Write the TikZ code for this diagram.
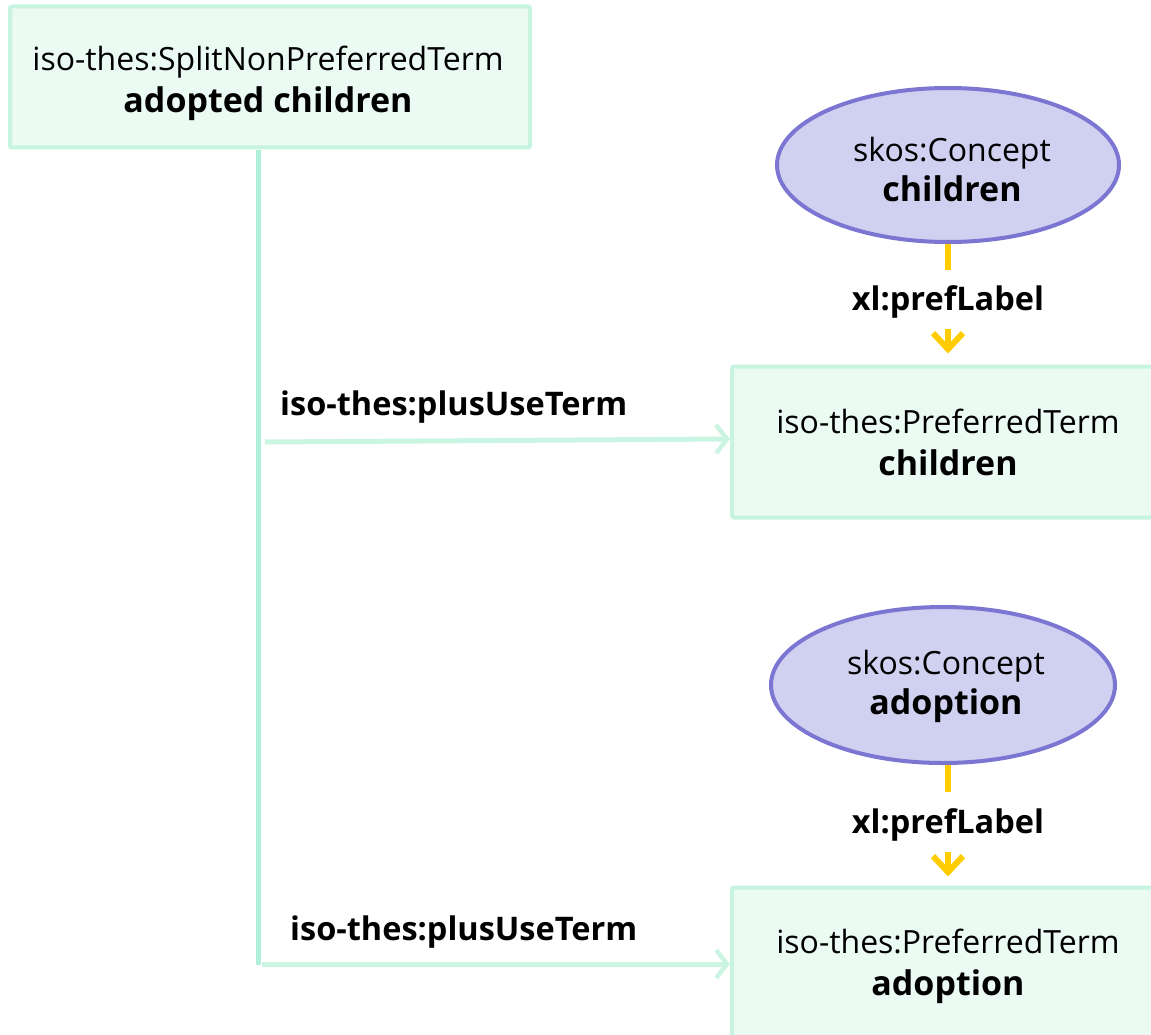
\documentclass[tikz,border=0pt]{standalone}
\usepackage{fontspec}
\setmainfont{Open Sans}
\usetikzlibrary{arrows.meta,shapes.geometric}
\definecolor{termfill}{HTML}{EBFAF3}
\definecolor{termline}{HTML}{C6F4E0}
\definecolor{trunk}{HTML}{B0F0D8}
\definecolor{useline}{HTML}{CBF5E3}
\definecolor{conceptfill}{HTML}{D0D0F0}
\definecolor{conceptline}{HTML}{7A76D2}
\definecolor{preflabel}{HTML}{FFCC00}
\newcommand{\nodetext}{\fontsize{32}{42}\selectfont}
\newcommand{\nodename}[1]{{\fontsize{34}{42}\selectfont\bfseries #1}}
\tikzset{
  termbox/.style={draw=termline, fill=termfill, line width=4pt, rounded corners=2pt,
    inner sep=0pt},
  concept/.style={draw=conceptline, fill=conceptfill, line width=4pt, ellipse,
    inner sep=0pt},
  caption/.style={align=center, font=\nodetext, inner sep=0pt},
  edgelabel/.style={font=\fontsize{32.5}{36}\selectfont\bfseries, inner sep=0pt},
  prefline/.style={draw=preflabel, line width=6pt},
  prefarrow/.style={draw=preflabel, line width=6pt,
    -{Straight Barb[length=16pt, width=30pt, line width=6pt]}},
  usearrow/.style={draw=useline, line width=5pt,
    -{Straight Barb[length=11pt, width=28pt, line width=4.5pt]}},
}
\begin{document}
\begin{tikzpicture}[x=1pt, y=-1pt]
\useasboundingbox (0,0) rectangle (1151,1035);
% split non-preferred term
\node[termbox, minimum width=520pt, minimum height=141pt] (split) at (270,77) {};
\node[caption] (splittext) at (268,83)
  {iso-thes:SplitNonPreferredTerm\\\nodename{adopted children}};
% concepts
\node[concept, minimum width=342pt, minimum height=154pt] (c1) at (948,165) {};
\node[caption] (c1text) at (952,170) {skos:Concept\\[-2pt]\nodename{children}};
\node[concept, minimum width=344pt, minimum height=156pt] (c2) at (943,685) {};
\node[caption] (c2text) at (946,686) {skos:Concept\\[-2pt]\nodename{adoption}};
% preferred terms (the second one runs past the lower edge)
\node[termbox, minimum width=440pt, minimum height=151pt] (p1) at (952,442) {};
\node[caption] (p1text) at (948,442) {iso-thes:PreferredTerm\\\nodename{children}};
\node[termbox, minimum width=440pt, minimum height=151pt] (p2) at (952,963) {};
\node[caption] (p2text) at (948,966) {iso-thes:PreferredTerm\\\nodename{adoption}};
% prefLabel connectors, broken by their labels
\node[edgelabel] (l1) at (948,302) {xl:prefLabel};
\node[edgelabel] (l2) at (948,825) {xl:prefLabel};
\coordinate (l1a) at (948,270);
\coordinate (l1b) at (948,329);
\coordinate (l2a) at (948,792);
\coordinate (l2b) at (948,852);
\draw[prefline] (c1.south) -- (l1a);
\draw[prefarrow] (l1b) -- (p1.north -| l1b) [shorten >=11pt];
\draw[prefline] (c2.south -| l2a) -- (l2a);
\draw[prefarrow] (l2b) -- (p2.north -| l2b) [shorten >=9pt];
% plusUseTerm trunk and branches
\coordinate (t0) at (258,150);
\coordinate (t1) at (258,965);
\coordinate (b1) at (265,442);
\coordinate (b2) at (262,964);
\draw[draw=trunk, line width=5pt] (t0) -- (t1);
\draw[usearrow] (b1) -- (p1.west |- 0,439);
\draw[usearrow] (b2) -- (p2.west |- 0,964);
\node[edgelabel, anchor=west] (u1) at (280,407) {iso-thes:plusUseTerm};
\node[edgelabel, anchor=west] (u2) at (290,932) {iso-thes:plusUseTerm};
\end{tikzpicture}
\end{document}
